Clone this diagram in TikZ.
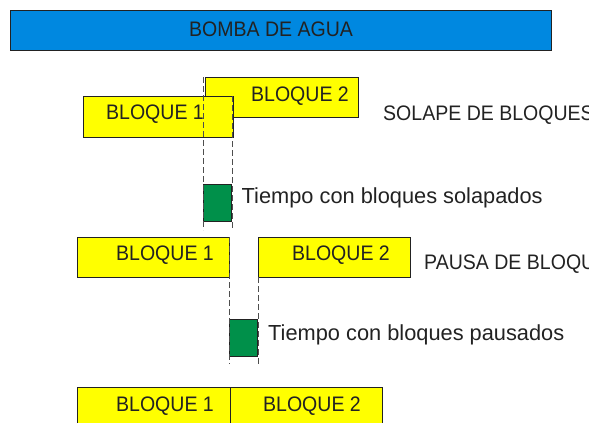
\documentclass[tikz,border=0pt]{standalone}
\usepackage{fontspec}
\setmainfont{Liberation Sans}
\newfontfamily\capsfont{Liberation Sans}[FakeStretch=0.93]
\usepackage{xcolor}
\usetikzlibrary{positioning}
\definecolor{aguaazul}{RGB}{0,136,224}
\definecolor{amarillo}{RGB}{255,255,0}
\definecolor{verde}{RGB}{0,144,74}
\definecolor{tinta}{RGB}{34,34,34}

\tikzset{
  barra/.style={draw=tinta, fill=aguaazul, line width=1pt, anchor=north west, inner sep=0pt},
  bloque/.style={draw=tinta, fill=amarillo, line width=0.9pt, anchor=north west, inner sep=0pt,
    minimum width=152pt, minimum height=40pt},
  tiempo/.style={draw=tinta, fill=verde, line width=0.9pt, anchor=north west, inner sep=0pt,
    minimum width=28pt, minimum height=37pt},
  etiq/.style={text=tinta, inner sep=0pt, anchor=base, font=\capsfont\fontsize{21}{21}\selectfont},
  nota/.style={text=tinta, inner sep=0pt, anchor=base west, font=\fontsize{21.8}{22}\selectfont},
  guia/.style={draw=tinta!80, line width=0.8pt, dash pattern=on 6pt off 3pt}
}

\begin{document}
\begin{tikzpicture}[x=1pt, y=-1pt]
  \useasboundingbox (0,0) rectangle (589,423);
  \clip (0,0) rectangle (589,423);

  % bomba
  \node[barra, minimum width=541pt, minimum height=40pt] (bomba) at (10,10) {};
  \node[etiq] (tbomba) at (271,36.5) {BOMBA DE AGUA};

  % solape de bloques
  \node[bloque, minimum width=153pt] (s2) at (205,77) {};
  \node[bloque, minimum width=150pt, minimum height=41pt] (s1) at (83,96) {};
  \node[etiq] (ts1) at (155,119) {BLOQUE 1};
  \node[etiq] (ts2) at (300,101) {BLOQUE 2};
  \node[etiq, anchor=base west] (tsolape) at (383,120.5) {SOLAPE DE BLOQUES};

  \coordinate (gs1a) at (203,77);  \coordinate (gs1b) at (203,230);
  \coordinate (gs2a) at (232,96);  \coordinate (gs2b) at (232,230);
  \node[tiempo] (vs) at (203,184) {};
  \draw[guia] (gs1a) -- (gs1b);
  \draw[guia] (gs2a) -- (gs2b);
  \node[nota] (tvs) at (241.5,203.3) {Tiempo con bloques solapados};

  % pausa de bloques
  \node[bloque] (p1) at (77,237) {};
  \node[bloque] (p2) at (258,237) {};
  \node[etiq] (tp1) at (165,260.7) {BLOQUE 1};
  \node[etiq] (tp2) at (341,260.7) {BLOQUE 2};
  \node[etiq, anchor=base west] (tpausa) at (424,269) {PAUSA DE BLOQUES};

  \coordinate (gp1a) at (229,237); \coordinate (gp1b) at (229,364);
  \coordinate (gp2a) at (258,277); \coordinate (gp2b) at (258,364);
  \node[tiempo] (vp) at (229,319) {};
  \draw[guia] (gp1a) -- (gp1b);
  \draw[guia] (gp2a) -- (gp2b);
  \node[nota] (tvp) at (268,340) {Tiempo con bloques pausados};

  % bloques seguidos
  \node[bloque, minimum width=153pt, minimum height=60pt] (b1) at (77,387) {};
  \node[bloque, minimum width=152pt, minimum height=60pt] (b2) at (230,387) {};
  \node[etiq] (tb1) at (165,411) {BLOQUE 1};
  \node[etiq] (tb2) at (312,411) {BLOQUE 2};
\end{tikzpicture}
\end{document}
